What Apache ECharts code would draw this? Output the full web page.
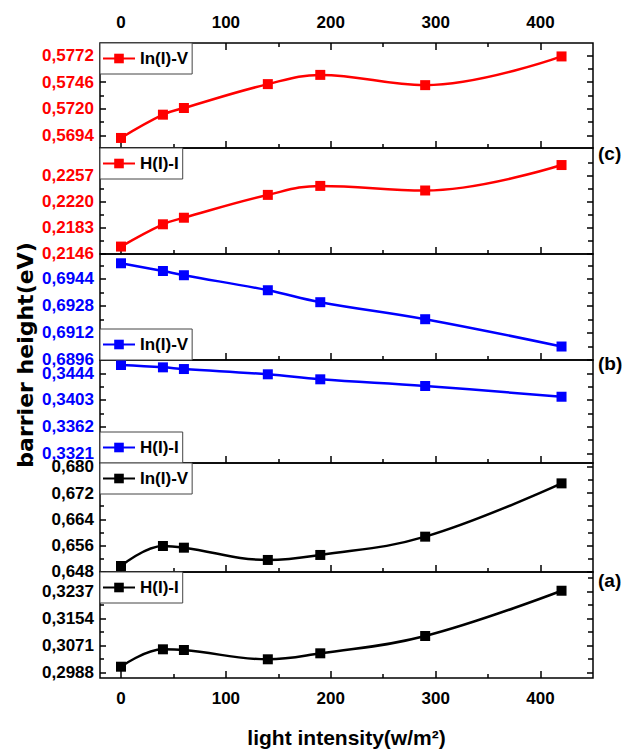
<!DOCTYPE html>
<html><head><meta charset="utf-8">
<script src="https://cdn.jsdelivr.net/npm/echarts@6/dist/echarts.min.js"></script>
<style>html,body{margin:0;padding:0;background:#fff}#c{width:634px;height:755px}</style>
</head><body><div id="c"></div>
<script>
// ---- data ----
const intensity = [0, 40, 60, 140, 190, 290, 420];
const xTickLabels = [0, 100, 200, 300, 400];
const xMinorTicks = [50, 150, 250, 350];

const seriesNames = ['In(I)-V', 'H(I)-I', 'In(I)-V', 'H(I)-I', 'In(I)-V', 'H(I)-I'];
const panelTags = ['(c)', '(b)', '(a)'];

const cLnIV = [0.56915, 0.57142, 0.57207, 0.57440, 0.57530, 0.57430, 0.57710];
const cHII  = [0.21563, 0.21878, 0.21971, 0.22294, 0.22421, 0.22356, 0.22716];
const bLnIV = [0.69533, 0.69487, 0.69462, 0.69373, 0.69302, 0.69201, 0.69039];
const bHII  = [0.34568, 0.34532, 0.34506, 0.34425, 0.34348, 0.34245, 0.34080];
const aLnIV = [0.64982, 0.65590, 0.65538, 0.65165, 0.65317, 0.65873, 0.67493];
const aHII  = [0.30064, 0.30599, 0.30578, 0.30292, 0.30476, 0.31008, 0.32400];

const yTicksC1 = [0.5694, 0.5720, 0.5746, 0.5772];
const yTicksC2 = [0.2146, 0.2183, 0.2220, 0.2257];
const yTicksB1 = [0.6896, 0.6912, 0.6928, 0.6944];
const yTicksB2 = [0.3321, 0.3362, 0.3403, 0.3444];
const yTicksA1 = [0.648, 0.656, 0.664, 0.672, 0.680];
const yTicksA2 = [0.2988, 0.3071, 0.3154, 0.3237];

// ---- axis / layout settings ----
const panelValues = [cLnIV, cHII, bLnIV, bHII, aLnIV, aHII];
const panelTicks = [yTicksC1, yTicksC2, yTicksB1, yTicksB2, yTicksA1, yTicksA2];
const panelDecimals = [4, 4, 4, 4, 3, 4];
const yMins = [0.56817, 0.21458, 0.68959, 0.33061, 0.64799, 0.29717];
const yMaxs = [0.57841, 0.22957, 0.69588, 0.34645, 0.68112, 0.32976];
const colors = ['#ff0000', '#ff0000', '#0000ff', '#0000ff', '#000000', '#000000'];
const tops = [43, 148, 254, 360, 463, 572, 678];
const legendTops = [43, 148, 329, 432, 463, 572];

const FONT = "'Liberation Sans', Arial, sans-serif";
const GL = 100, GR = 593;

const grids = [], xAxes = [], yAxes = [], series = [], legends = [];

function minorOf(ticks, lo, hi) {
  const step = ticks[1] - ticks[0];
  const out = [];
  for (let i = -1; i < ticks.length; i++) {
    const v = ticks[0] + step * (i + 0.5);
    if (v > lo && v < hi) out.push(v);
  }
  return out;
}

const tickLine = { color: '#000', width: 1.5 };

for (let i = 0; i < 6; i++) {
  grids.push({
    left: GL, width: GR - GL, top: tops[i], height: tops[i + 1] - tops[i],
    show: true, borderColor: '#000', borderWidth: 1.5, backgroundColor: 'transparent'
  });
  const xBase = {
    gridIndex: i, type: 'value', min: -20, max: 450,
    axisLine: { show: false, onZero: false }, splitLine: { show: false }
  };
  const xMainIdx = xAxes.length;
  xAxes.push(Object.assign({}, xBase, {
    position: 'bottom',
    axisTick: { inside: true, length: 7, customValues: xTickLabels, lineStyle: tickLine },
    axisLabel: { show: i === 5, customValues: xTickLabels, margin: 12, fontSize: 17, fontWeight: 'bold', fontFamily: FONT, color: '#000' },
    name: i === 5 ? 'light intensity(w/m²)' : '',
    nameLocation: 'middle', nameGap: 49,
    nameTextStyle: { fontSize: 21, fontWeight: 'bold', fontFamily: FONT, color: '#000' }
  }));
  xAxes.push(Object.assign({}, xBase, {
    position: 'bottom',
    axisTick: { inside: true, length: 4, customValues: xMinorTicks, lineStyle: tickLine },
    axisLabel: { show: false }
  }));
  if (i === 0) {
    xAxes.push(Object.assign({}, xBase, {
      position: 'top',
      axisTick: { inside: true, length: 7, customValues: xTickLabels, lineStyle: tickLine },
      axisLabel: { show: true, customValues: xTickLabels, margin: 12, fontSize: 17, fontWeight: 'bold', fontFamily: FONT, color: '#000' }
    }));
    xAxes.push(Object.assign({}, xBase, {
      position: 'top',
      axisTick: { inside: true, length: 4, customValues: xMinorTicks, lineStyle: tickLine },
      axisLabel: { show: false }
    }));
  }

  const ticks = panelTicks[i];
  const minors = minorOf(ticks, yMins[i], yMaxs[i]);
  const dec = panelDecimals[i];
  const yBase = {
    gridIndex: i, type: 'value', min: yMins[i], max: yMaxs[i],
    axisLine: { show: false, onZero: false }, splitLine: { show: false }
  };
  const yMainIdx = yAxes.length;
  yAxes.push(Object.assign({}, yBase, {
    position: 'left',
    axisTick: { inside: true, length: 6, customValues: ticks, lineStyle: tickLine },
    axisLabel: {
      show: true, customValues: ticks, margin: 6, fontSize: 17, fontWeight: 'bold',
      fontFamily: FONT, color: colors[i],
      formatter: v => v.toFixed(dec).replace('.', ',')
    }
  }));
  yAxes.push(Object.assign({}, yBase, {
    position: 'left',
    axisTick: { inside: true, length: 4, customValues: minors, lineStyle: tickLine },
    axisLabel: { show: false }
  }));
  yAxes.push(Object.assign({}, yBase, {
    position: 'right',
    axisTick: { inside: true, length: 6, customValues: ticks, lineStyle: tickLine },
    axisLabel: { show: false }
  }));
  yAxes.push(Object.assign({}, yBase, {
    position: 'right',
    axisTick: { inside: true, length: 5, customValues: minors, lineStyle: tickLine },
    axisLabel: { show: false }
  }));

  const sName = seriesNames[i] + '#' + i;
  series.push({
    name: sName, type: 'line', xAxisIndex: xMainIdx, yAxisIndex: yMainIdx,
    data: intensity.map((x, k) => [x, panelValues[i][k]]),
    smooth: 0.4, symbol: 'rect', symbolSize: 10, showSymbol: true,
    lineStyle: { color: colors[i], width: 2.5 },
    itemStyle: { color: colors[i] },
    animation: false, z: 3
  });
  legends.push({
    data: [sName], left: GL, top: legendTops[i], orient: 'horizontal',
    padding: [7, 4, 7, 2], itemWidth: 32, itemHeight: 12, itemGap: 0,
    borderColor: '#444', borderWidth: 1, backgroundColor: '#fff',
    selectedMode: false,
    formatter: n => n.split('#')[0],
    textStyle: { fontSize: 17, fontWeight: 'bold', fontFamily: FONT, color: '#000' }
  });
}

const tagY = [153, 363, 580];
const graphic = panelTags.map((t, k) => ({
  type: 'text', x: 598, y: tagY[k],
  style: { text: t, fontSize: 19, fontWeight: 'bold', fontFamily: FONT, fill: '#000', textAlign: 'left', textVerticalAlign: 'middle' }
}));
graphic.push({
  type: 'text', x: 25, y: 355, rotation: Math.PI / 2,
  style: { text: 'barrier height(eV)', fontSize: 22, fontWeight: 'bold', fontFamily: "'DejaVu Sans', sans-serif", fill: '#000', textAlign: 'center', textVerticalAlign: 'middle' }
});

const chart = echarts.init(document.getElementById('c'), null, { renderer: 'svg' });
chart.setOption({
  animation: false,
  backgroundColor: '#fff',
  grid: grids, xAxis: xAxes, yAxis: yAxes, series: series, legend: legends, graphic: graphic
});
</script></body></html>
